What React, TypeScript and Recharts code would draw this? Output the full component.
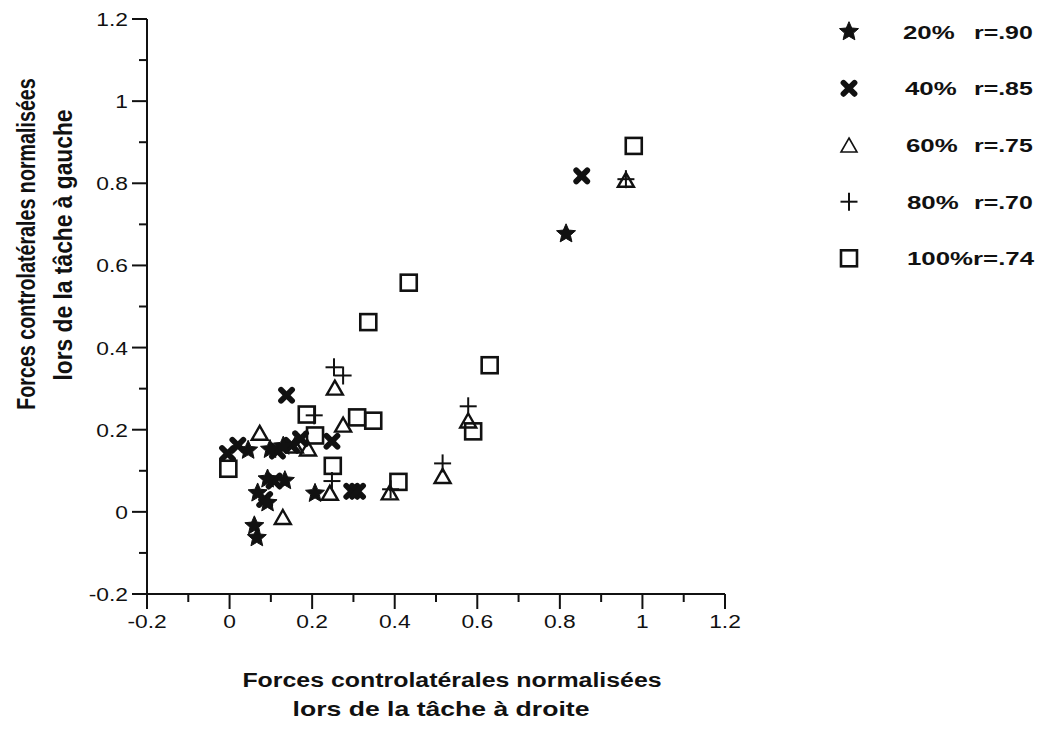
import React from "react";
import { ScatterChart, Scatter, XAxis, YAxis } from "recharts";

const star20 = [
  { x: 0.815, y: 0.677 },
  { x: 0.045, y: 0.15 },
  { x: 0.098, y: 0.152 },
  { x: 0.13, y: 0.16 },
  { x: 0.092, y: 0.08 },
  { x: 0.134, y: 0.076 },
  { x: 0.068, y: 0.046 },
  { x: 0.092, y: 0.022 },
  { x: 0.06, y: -0.034 },
  { x: 0.066, y: -0.063 },
  { x: 0.207, y: 0.045 },
];

const cross40 = [
  { x: 0.853, y: 0.818 },
  { x: 0.138, y: 0.284 },
  { x: 0.296, y: 0.05 },
  { x: 0.31, y: 0.05 },
  { x: 0.248, y: 0.172 },
  { x: -0.005, y: 0.142 },
  { x: 0.02, y: 0.162 },
  { x: 0.116, y: 0.148 },
  { x: 0.15, y: 0.162 },
  { x: 0.172, y: 0.178 },
  { x: 0.085, y: 0.03 },
  { x: 0.108, y: 0.075 },
];

const tri60 = [
  { x: 0.96, y: 0.806 },
  { x: 0.255, y: 0.3 },
  { x: 0.275, y: 0.21 },
  { x: 0.073, y: 0.19 },
  { x: 0.158, y: 0.159 },
  { x: 0.19, y: 0.152 },
  { x: 0.243, y: 0.044 },
  { x: 0.129, y: -0.015 },
  { x: 0.388, y: 0.045 },
  { x: 0.516, y: 0.085 },
  { x: 0.578, y: 0.22 },
];

const plus80 = [
  { x: 0.96, y: 0.81 },
  { x: 0.253, y: 0.352 },
  { x: 0.275, y: 0.332 },
  { x: 0.248, y: 0.075 },
  { x: 0.39, y: 0.055 },
  { x: 0.516, y: 0.118 },
  { x: 0.578, y: 0.257 },
  { x: 0.205, y: 0.235 },
];

const sq100 = [
  { x: 0.979, y: 0.891 },
  { x: 0.434, y: 0.558 },
  { x: 0.336, y: 0.462 },
  { x: 0.63, y: 0.357 },
  { x: 0.59, y: 0.196 },
  { x: 0.409, y: 0.073 },
  { x: 0.309, y: 0.23 },
  { x: 0.348, y: 0.222 },
  { x: 0.187, y: 0.237 },
  { x: 0.207, y: 0.186 },
  { x: 0.25, y: 0.112 },
  { x: -0.003, y: 0.105 },
];

const axisTicks = [-0.2, -0.1, 0, 0.1, 0.2, 0.3, 0.4, 0.5, 0.6, 0.7, 0.8, 0.9, 1, 1.1, 1.2];
const tickLabels: Record<string, string> = {
  "-2": "-0.2", "0": "0", "2": "0.2", "4": "0.4", "6": "0.6", "8": "0.8", "10": "1", "12": "1.2",
};

const legendRows = [
  { key: "star", a: "20%", b: "r=.90" },
  { key: "cross", a: "40%", b: "r=.85" },
  { key: "tri", a: "60%", b: "r=.75" },
  { key: "plus", a: "80%", b: "r=.70" },
  { key: "sq", a: "100%r=.74", b: "" },
];

const INK = "#111111";
const FONT = "'Liberation Sans', Arial, Helvetica, sans-serif";

function starPath(cx: number, cy: number, R: number, r: number) {
  let d = "";
  for (let i = 0; i < 10; i++) {
    const ang = -Math.PI / 2 + (i * Math.PI) / 5;
    const rad = i % 2 === 0 ? R : r;
    d += (i === 0 ? "M" : "L") + (cx + rad * Math.cos(ang)).toFixed(2) + "," + (cy + rad * Math.sin(ang)).toFixed(2);
  }
  return d + "Z";
}

const StarMark = (p: any) => <path d={starPath(p.cx, p.cy, 10, 4.6)} fill={INK} stroke={INK} strokeWidth={1} strokeLinejoin="round" />;
const CrossMark = (p: any) => (
  <g stroke={INK} strokeWidth={5.8} strokeLinecap="round">
    <line x1={p.cx - 5.5} y1={p.cy - 5.5} x2={p.cx + 5.5} y2={p.cy + 5.5} />
    <line x1={p.cx - 5.5} y1={p.cy + 5.5} x2={p.cx + 5.5} y2={p.cy - 5.5} />
  </g>
);
const TriMark = (p: any) => (
  <path d={`M${p.cx},${p.cy - 8}L${p.cx + 8},${p.cy + 6}L${p.cx - 8},${p.cy + 6}Z`} fill="none" stroke={INK} strokeWidth={p.sw || 2.4} strokeLinejoin="miter" />
);
const PlusMark = (p: any) => (
  <g stroke={INK} strokeWidth={2}>
    <line x1={p.cx - 8.5} y1={p.cy} x2={p.cx + 8.5} y2={p.cy} />
    <line x1={p.cx} y1={p.cy - 9} x2={p.cx} y2={p.cy + 9} />
  </g>
);
const SqMark = (p: any) => (
  <rect x={p.cx - 8} y={p.cy - 8} width={16} height={16} fill="none" stroke={INK} strokeWidth={2.6} />
);

function isMajor(v: number) {
  return Math.round(v * 10) % 2 === 0;
}

const XTick = (props: any) => {
  const { x, y, payload } = props;
  const v = payload.value;
  const major = isMajor(v);
  const lab = tickLabels[String(Math.round(v * 10))];
  return (
    <g>
      <line x1={x} y1={y} x2={x} y2={y + (major ? 15 : 8)} stroke={INK} strokeWidth={2} />
      {major && (
        <text transform={`translate(${x},${y + 34}) scale(1.2,1)`} textAnchor="middle" fontSize={19} fontFamily={FONT} fill={INK}>
          {lab}
        </text>
      )}
    </g>
  );
};

const YTick = (props: any) => {
  const { x, y, payload } = props;
  const v = payload.value;
  const major = isMajor(v);
  const lab = tickLabels[String(Math.round(v * 10))];
  return (
    <g>
      <line x1={x - (major ? 15 : 8)} y1={y} x2={x} y2={y} stroke={INK} strokeWidth={2} />
      {major && (
        <text transform={`translate(${x - 19},${y + 7}) scale(1.2,1)`} textAnchor="end" fontSize={19} fontFamily={FONT} fill={INK}>
          {lab}
        </text>
      )}
    </g>
  );
};

function LegendSymbol({ kind, cx, cy }: { kind: string; cx: number; cy: number }) {
  if (kind === "star") return <StarMark cx={cx} cy={cy} />;
  if (kind === "cross") return <CrossMark cx={cx} cy={cy} />;
  if (kind === "tri") return <TriMark cx={cx} cy={cy + 1} sw={1.6} />;
  if (kind === "plus") return <PlusMark cx={cx} cy={cy} />;
  return <SqMark cx={cx} cy={cy} />;
}

export default function App() {
  const rowY = [31.7, 88.3, 145, 201.7, 258.3];
  const aX = [903, 905, 906, 907, 907];
  return (
    <div style={{ position: "absolute", left: 0, top: 0, width: 1045, height: 733, background: "#fff" }}>
      <ScatterChart width={1045} height={733} margin={{ top: 19, right: 320, left: 0, bottom: 99 }}>
        <XAxis
          type="number"
          dataKey="x"
          domain={[-0.2, 1.2]}
          ticks={axisTicks}
          interval={0}
          tick={<XTick />}
          tickLine={false}
          tickSize={0}
          tickMargin={0}
          height={40}
          axisLine={{ stroke: INK, strokeWidth: 2 }}
          allowDataOverflow
        />
        <YAxis
          type="number"
          dataKey="y"
          domain={[-0.2, 1.2]}
          ticks={axisTicks}
          interval={0}
          tick={<YTick />}
          tickLine={false}
          tickSize={0}
          tickMargin={0}
          width={147}
          axisLine={{ stroke: INK, strokeWidth: 2 }}
          allowDataOverflow
        />
        <Scatter data={sq100} shape={(p: any) => <SqMark {...p} />} isAnimationActive={false} />
        <Scatter data={tri60} shape={(p: any) => <TriMark {...p} />} isAnimationActive={false} />
        <Scatter data={plus80} shape={(p: any) => <PlusMark {...p} />} isAnimationActive={false} />
        <Scatter data={cross40} shape={(p: any) => <CrossMark {...p} />} isAnimationActive={false} />
        <Scatter data={star20} shape={(p: any) => <StarMark {...p} />} isAnimationActive={false} />
      </ScatterChart>
      <svg width={1045} height={733} style={{ position: "absolute", left: 0, top: 0, pointerEvents: "none" }}>
        <g fontFamily={FONT} fontWeight="bold" fontSize={20} fill={INK} textAnchor="middle">
          <text transform="translate(452,687) scale(1.245,1)">Forces controlatérales normalisées</text>
          <text transform="translate(441,716) scale(1.33,1)">lors de la tâche à droite</text>
          <text transform="translate(35,244) rotate(-90) scale(0.985,1.3)">Forces controlatérales normalisées</text>
          <text transform="translate(72,245) rotate(-90) scale(1.14,1.3)">lors de la tâche à gauche</text>
        </g>
        {legendRows.map((r, i) => (
          <g key={r.key}>
            <LegendSymbol kind={r.key} cx={849} cy={rowY[i]} />
            <text transform={`translate(${aX[i]},${rowY[i] + 7}) scale(1.36,1)`} fontFamily={FONT} fontWeight="bold" fontSize={19} fill={INK}>
              {r.a}
            </text>
            {r.b && (
              <text transform={`translate(974,${rowY[i] + 7}) scale(1.31,1)`} fontFamily={FONT} fontWeight="bold" fontSize={19} fill={INK}>
                {r.b}
              </text>
            )}
          </g>
        ))}
      </svg>
    </div>
  );
}
